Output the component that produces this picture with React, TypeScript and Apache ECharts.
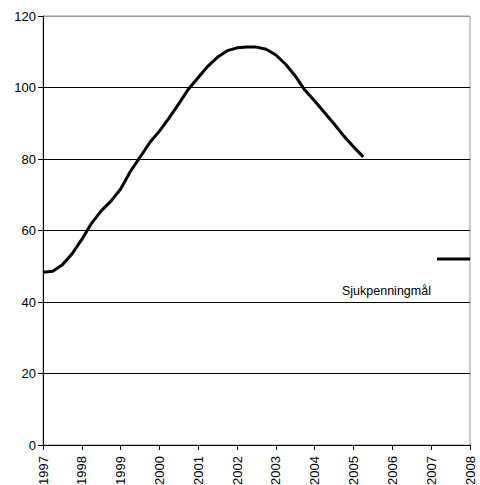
import React, { useEffect, useRef } from "react";
import * as echarts from "echarts";

const years = [
  1997.0, 1997.25, 1997.5, 1997.75, 1998.0, 1998.25, 1998.5, 1998.75,
  1999.0, 1999.25, 1999.5, 1999.75, 2000.0, 2000.25, 2000.5, 2000.75,
  2001.0, 2001.25, 2001.5, 2001.75, 2002.0, 2002.25, 2002.5, 2002.75,
  2003.0, 2003.25, 2003.5, 2003.75, 2004.0, 2004.25, 2004.5, 2004.75,
  2005.0, 2005.25,
];
const values = [
  48.3, 48.6, 50.4, 53.5, 57.5, 62.0, 65.5, 68.2,
  71.6, 76.5, 80.5, 84.6, 87.8, 91.5, 95.5, 99.6,
  102.8, 106.0, 108.5, 110.3, 111.1, 111.3, 111.3, 110.7,
  109.1, 106.5, 103.2, 99.2, 96.2, 93.0, 89.8, 86.4,
  83.4, 80.6,
];
const targetYears = [2007.15, 2008];
const targetValues = [52, 52];
const targetLabel = "Sjukpenningmål";

const font = "'Liberation Sans', Arial, sans-serif";

export default function App() {
  const ref = useRef<HTMLDivElement>(null);
  useEffect(() => {
    if (!ref.current) return;
    const chart = echarts.init(ref.current, undefined, { renderer: "svg" });
    chart.setOption({
      animation: false,
      backgroundColor: "#fff",
      grid: {
        left: 43,
        right: 10,
        top: 16,
        bottom: 40,
        show: true,
        borderColor: "#999",
        borderWidth: 1,
        containLabel: false,
        outerBoundsMode: "none",
      },
      xAxis: {
        type: "value",
        min: 1997,
        max: 2008,
        interval: 1,
        axisLine: { show: true, lineStyle: { color: "#000", width: 1 } },
        axisTick: { show: true, length: 5, lineStyle: { color: "#000" } },
        splitLine: { show: false },
        axisLabel: {
          rotate: 90,
          margin: 11,
          color: "#000",
          fontSize: 13,
          fontFamily: font,
          formatter: (v: number) => String(v),
        },
      },
      yAxis: {
        type: "value",
        min: 0,
        max: 120,
        interval: 20,
        axisLine: { show: true, lineStyle: { color: "#000", width: 1 } },
        axisTick: { show: true, length: 5, lineStyle: { color: "#000" } },
        splitLine: {
          show: true,
          lineStyle: {
            color: ["#000", "#000", "#000", "#000", "#000", "#000", "#999"],
            width: 1,
          },
        },
        axisLabel: {
          margin: 7,
          color: "#000",
          fontSize: 13,
          fontFamily: font,
        },
      },
      series: [
        {
          type: "line",
          data: years.map((y, i) => [y, values[i]]),
          showSymbol: false,
          symbol: "none",
          lineStyle: { color: "#000", width: 3 },
        },
        {
          type: "line",
          data: targetYears.map((y, i) => [y, targetValues[i]]),
          showSymbol: false,
          symbol: "none",
          lineStyle: { color: "#000", width: 3 },
        },
      ],
      graphic: [
        {
          type: "text",
          left: 342,
          top: 284,
          style: {
            text: targetLabel,
            fill: "#000",
            font: `12.5px ${font}`,
          },
        },
      ],
    });
    return () => chart.dispose();
  }, []);
  return (
    <div
      style={{
        position: "fixed",
        left: 0,
        top: 0,
        width: 480,
        height: 485,
        overflow: "hidden",
        background: "#fff",
      }}
    >
      <div ref={ref} style={{ width: 480, height: 485 }} />
    </div>
  );
}
